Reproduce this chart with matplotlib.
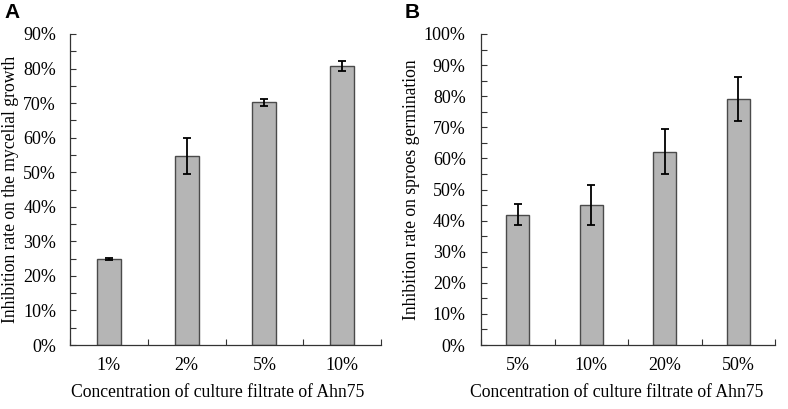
import matplotlib
matplotlib.use("Agg")
import matplotlib.pyplot as plt
from matplotlib.ticker import MultipleLocator, PercentFormatter, FixedLocator, NullFormatter
import numpy as np

# Panel A data
cats_a = ["1%", "2%", "5%", "10%"]
vals_a = [25.0, 54.8, 70.3, 80.8]
errs_a = [0.3, 5.2, 1.0, 1.5]

# Panel B data
cats_b = ["5%", "10%", "20%", "50%"]
vals_b = [41.9, 45.0, 62.2, 79.1]
errs_b = [3.3, 6.4, 7.1, 7.2]

xlabel = "Concentration of culture filtrate of Ahn75"
ylabel_a = "Inhibition rate on the mycelial growth"
ylabel_b = "Inhibition rate on sproes germination"

plt.rcParams["font.family"] = ["Liberation Serif", "DejaVu Serif"]
fs_tick = 13
fs_lab = 12.7
W, H = 788, 409
fig = plt.figure(figsize=(W / 100, H / 100), dpi=100)

bar_color = "#b5b5b5"
edge_color = "#4a4a4a"


def panel(ax, cats, vals, errs, ymax, ylabel, pad, xlab_x):
    x = np.arange(len(cats))
    ax.bar(x, vals, width=0.31, color=bar_color, edgecolor=edge_color, linewidth=1.0, zorder=2)
    ax.errorbar(x, vals, yerr=errs, fmt="none", ecolor="black", elinewidth=1.3,
                capsize=3, capthick=1.3, zorder=3)
    ax.set_xlim(-0.5, len(cats) - 0.5)
    ax.set_ylim(0, ymax)
    ax.yaxis.set_major_locator(MultipleLocator(10))
    ax.yaxis.set_minor_locator(MultipleLocator(5))
    ax.yaxis.set_major_formatter(PercentFormatter(decimals=0))
    ax.xaxis.set_major_locator(FixedLocator(np.arange(-0.5, len(cats), 1.0)))
    ax.xaxis.set_major_formatter(NullFormatter())
    ax.xaxis.set_minor_locator(FixedLocator(x))
    ax.set_xticklabels(cats, minor=True)
    ax.tick_params(axis="y", which="both", direction="in", length=4, width=0.8,
                   labelsize=fs_tick, pad=pad, color="#333333")
    ax.tick_params(axis="x", which="major", direction="in", length=4, width=0.8, color="#333333")
    ax.tick_params(axis="x", which="minor", length=0, labelsize=fs_tick, pad=9)
    for s in ["top", "right"]:
        ax.spines[s].set_visible(False)
    for s in ["left", "bottom"]:
        ax.spines[s].set_color("#333333")
        ax.spines[s].set_linewidth(0.9)
    ax.set_xlabel(xlabel, fontsize=fs_lab)
    ax.xaxis.set_label_coords(xlab_x, -0.125)
    ax.set_ylabel(ylabel, fontsize=fs_lab, labelpad=3)


bottom = (H - 345) / H
top = (H - 34) / H
ax1 = fig.add_axes([70 / W, bottom, (381 - 70) / W, top - bottom])
panel(ax1, cats_a, vals_a, errs_a, 90, ylabel_a, 10, 0.474)
ax2 = fig.add_axes([481 / W, bottom, (775 - 481) / W, top - bottom])
panel(ax2, cats_b, vals_b, errs_b, 100, ylabel_b, 11, 0.46)

fig.text(4 / W, 1 - 13 / H, "A", fontsize=15, fontweight="bold",
         family=["Liberation Sans", "DejaVu Sans"], va="center", ha="left")
fig.text(405 / W, 1 - 13 / H, "B", fontsize=15, fontweight="bold",
         family=["Liberation Sans", "DejaVu Sans"], va="center", ha="left")

fig.savefig("out.png", dpi=100)
